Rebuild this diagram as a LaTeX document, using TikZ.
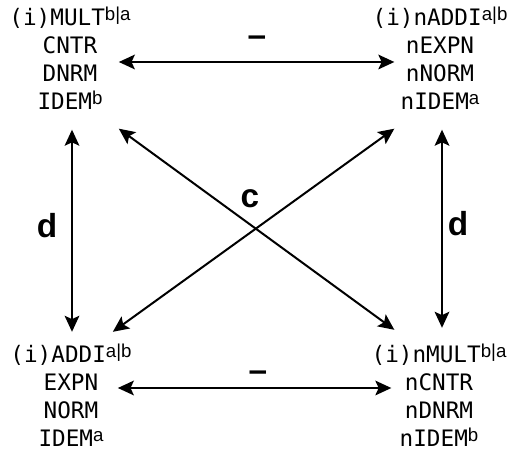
\documentclass[tikz,border=0pt]{standalone}
\usepackage{fontspec}
\setmainfont{Liberation Sans}
\setsansfont{Liberation Sans}
\setmonofont{DejaVu Sans Mono}
\newfontfamily\supfont{Liberation Sans}
\usetikzlibrary{arrows.meta}
\newcommand{\sups}[1]{\raisebox{4pt}{\fontsize{14pt}{14pt}\selectfont\supfont #1}}

\begin{document}
\begin{tikzpicture}[x=0.75pt, y=-0.75pt,
    quad/.style={align=center, inner sep=0pt, font=\fontsize{17pt}{21pt}\selectfont\ttfamily},
    link/.style={<->, >={Stealth[length=12pt, width=11pt, inset=2.5pt]}, line width=1.5pt},
    lbl/.style={inner sep=0pt, font=\fontsize{25pt}{25pt}\selectfont\sffamily\bfseries}]
    \useasboundingbox (0,0) rectangle (511,459);

    % Four corners
    \node (tl) [quad] at (70,58) {(i)MULT\sups{b|a}\\CNTR\\DNRM\\IDEM\sups{b}};
    \node (tr) [quad] at (440,58) {(i)nADDI\sups{a|b}\\nEXPN\\nNORM\\nIDEM\sups{a}};
    \node (bl) [quad] at (71,395) {(i)ADDI\sups{a|b}\\EXPN\\NORM\\IDEM\sups{a}};
    \node (br) [quad] at (439,395) {(i)nMULT\sups{b|a}\\nCNTR\\nDNRM\\nIDEM\sups{b}};

    % Horizontal arrows
    \draw[link] ([shift={(-12,4)}]tl.east) -- ([shift={(22,4)}]tr.west);
    \draw[link] ([shift={(-14,-7)}]bl.east) -- ([shift={(20,-7)}]br.west);

    % Vertical arrows
    \draw[link] ([shift={(2,20)}]tl.south) -- ([shift={(1,-11.5)}]bl.north);
    \draw[link] ([shift={(2,20)}]tr.south) -- ([shift={(3,-15.5)}]br.north);

    % Diagonals
    \draw[link] ([shift={(-12,19)}]tl.south east) -- ([shift={(23,-13.5)}]br.north west);
    \draw[link] ([shift={(22,19)}]tr.south west) -- ([shift={(-19,-11.5)}]bl.north east);

    % Labels
    \node (negT) [lbl] at (257,41) {--};
    \node (negB) [lbl] at (258,376) {--};
    \node (conj) [lbl] at (250,199) {c};
    \node (dualL) [lbl] at (47,226) {d};
    \node (dualR) [lbl] at (458,224) {d};
\end{tikzpicture}
\end{document}
